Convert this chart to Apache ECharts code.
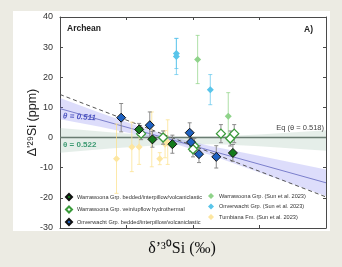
<!DOCTYPE html>
<html>
<head>
<meta charset="utf-8">
<script src="https://cdn.jsdelivr.net/npm/echarts@6/dist/echarts.min.js"></script>
<style>
  html, body { margin: 0; padding: 0; background: #ecebe3; }
  #chart { width: 342px; height: 267px; }
</style>
</head>
<body>
<div id="chart"></div>
<script>
// x axis has no tick labels: values are in tick units (0..4)
// Warrawoona Grp. bedded/interpillow/volcaniclastic
const wbX = [1.19, 1.39, 1.69, 2.60];
const wbY = [2.7, -0.6, -2.2, -5.1];
const wbErr = [2.0, 2.6, 3.0, 2.8];
// Warrawoona Grp. vein/upflow hydrothermal
const wvX = [1.22, 1.55, 2.02, 2.00, 2.42, 2.56, 2.62];
const wvY = [1.3, 0.0, -2.8, -3.9, 1.3, -0.3, 1.3];
const wvErr = [2.0, 2.2, 2.5, 2.5, 3.0, 2.5, 3.0];
// Onverwacht Grp. bedded/interpillow/volcaniclastic
const obX = [0.92, 1.35, 1.95, 1.97, 2.09, 2.35];
const obY = [6.6, 4.1, 1.6, -1.5, -5.5, -6.4];
const obErr = [4.7, 4.4, 3.3, 3.0, 2.8, 3.7];
// Sun et al. 2023
const swX = [2.07, 2.53];
const swY = [25.9, 7.1];
const swErr = [8.0, 7.8];
const soX = [1.75, 1.75, 2.26];
const soY = [27.9, 26.9, 15.9];
const soErr = [5.0, 6.0, 5.0];
const tfX = [0.85, 1.08, 1.19, 1.38, 1.50, 1.58, 1.62];
const tfY = [-7.0, -3.1, -3.1, -0.6, -7.0, -2.2, -1.5];
const tfErr = [11.5, 8.2, 5.8, 9.1, 2.0, 4.5, 7.4];

// fit lines and confidence bands
const lineX = [0, 4];
const fit511Y = [9.6, -15.0];
const dashY = [14.3, -19.7];
const eqY = [0, 0];
const band511X = [0, 0.60, 1.20, 1.70, 2.26, 3.01, 4.0];
const band511Up = [13.1, 8.2, 3.6, 0.1, -2.8, -6.1, -10.6];
const band511Lo = [6.1, 3.6, 0.8, -1.9, -5.8, -11.7, -19.4];
const band522X = [0, 0.75, 1.65, 2.4, 3.0, 4.0];
const band522Up = [3.2, 1.8, 0.3, 0.4, 1.0, 2.4];
const band522Lo = [-5.0, -3.6, -2.3, -2.2, -2.9, -4.4];

const yTicks = { min: -30, max: 40, step: 10 };

const names = [
  'Warrawoona Grp. bedded/interpillow/volcaniclastic',
  'Warrawoona Grp. vein/upflow hydrothermal',
  'Onverwacht Grp. bedded/interpillow/volcaniclastic',
  'Warrawoona Grp. (Sun et al. 2023)',
  'Onverwacht Grp. (Sun et al. 2023)',
  'Tumbiana Fm. (Sun et al. 2023)'
];

function pairs(xs, ys) {
  return xs.map((x, i) => [x, ys[i]]);
}

function errorBars(xs, ys, errs, color, z) {
  return {
    type: 'custom', z: z, silent: true,
    data: xs.map((x, i) => [x, ys[i] - errs[i], ys[i] + errs[i]]),
    encode: { x: 0, y: [1, 2] },
    renderItem: function (params, api) {
      const lo = api.coord([api.value(0), api.value(1)]);
      const hi = api.coord([api.value(0), api.value(2)]);
      const c = 2;
      const st = { stroke: color, lineWidth: 1 };
      return {
        type: 'group',
        children: [
          { type: 'line', shape: { x1: lo[0], y1: lo[1], x2: hi[0], y2: hi[1] }, style: st },
          { type: 'line', shape: { x1: lo[0] - c, y1: lo[1], x2: lo[0] + c, y2: lo[1] }, style: st },
          { type: 'line', shape: { x1: hi[0] - c, y1: hi[1], x2: hi[0] + c, y2: hi[1] }, style: st }
        ]
      };
    }
  };
}

function band(xs, up, lo, color, z) {
  return {
    type: 'custom', z: z, silent: true,
    data: [[xs[0], up[0]]],
    renderItem: function (params, api) {
      const pts = [];
      for (let i = 0; i < xs.length; i++) pts.push(api.coord([xs[i], up[i]]));
      for (let i = xs.length - 1; i >= 0; i--) pts.push(api.coord([xs[i], lo[i]]));
      return { type: 'polygon', shape: { points: pts }, style: { fill: color } };
    }
  };
}

function points(name, xs, ys, size, fill, border, bw, z) {
  return {
    name: name, type: 'scatter', z: z,
    symbol: 'diamond', symbolSize: size,
    data: pairs(xs, ys),
    itemStyle: { color: fill, borderColor: border, borderWidth: bw, opacity: 1 }
  };
}

function plainLine(ys, color, width, type, z) {
  return {
    type: 'line', z: z, silent: true, showSymbol: false,
    data: pairs(lineX, ys),
    lineStyle: { color: color, width: width, type: type }
  };
}

const chart = echarts.init(document.getElementById('chart'));

const xAxisBase = {
  type: 'value', min: 0, max: 4, interval: 1,
  axisLine: { show: true, onZero: false, lineStyle: { color: '#4a4a4a', width: 1 } },
  axisTick: { show: true, inside: true, length: 3, lineStyle: { color: '#4a4a4a' } },
  axisLabel: { show: false },
  splitLine: { show: false }
};
const yAxisBase = {
  type: 'value', min: yTicks.min, max: yTicks.max, interval: yTicks.step,
  axisLine: { show: true, onZero: false, lineStyle: { color: '#4a4a4a', width: 1 } },
  axisTick: { show: true, inside: true, length: 3, lineStyle: { color: '#4a4a4a' } },
  splitLine: { show: false }
};

const legendBase = {
  orient: 'vertical', top: 193, itemWidth: 6, itemHeight: 6, itemGap: 4.5,
  padding: 0, selectedMode: false,
  textStyle: { fontSize: 5.6, color: '#333', fontFamily: 'Liberation Sans', lineHeight: 6 }
};

chart.setOption({
  backgroundColor: '#ecebe3',
  animation: false,
  grid: { left: 60, right: 16, top: 17, bottom: 39 },
  xAxis: [
    Object.assign({}, xAxisBase, { position: 'bottom' }),
    Object.assign({}, xAxisBase, { position: 'top' })
  ],
  yAxis: [
    Object.assign({}, yAxisBase, {
      position: 'left',
      axisLabel: { fontSize: 9, color: '#333', margin: 7, fontFamily: 'Liberation Sans' },
      name: "Δ'²⁹Si (ppm)", nameLocation: 'middle', nameGap: 21, nameMoveOverlap: false,
      nameTextStyle: { fontSize: 12.5, color: '#222', fontFamily: 'Liberation Sans' }
    }),
    Object.assign({}, yAxisBase, { position: 'right', axisLabel: { show: false } })
  ],
  legend: [
    Object.assign({}, legendBase, { left: 65, data: names.slice(0, 3) }),
    Object.assign({}, legendBase, { left: 208, data: names.slice(3) })
  ],
  graphic: [
    { type: 'rect', z: -10, shape: { x: 13, y: 11, width: 317, height: 220 }, style: { fill: '#ffffff' } },
    { type: 'text', x: 67, y: 29, z: 10, style: { text: 'Archean', fontSize: 8.5, fontWeight: 'bold', fill: '#222', verticalAlign: 'middle', fontFamily: 'Liberation Sans' } },
    { type: 'text', x: 313, y: 30, z: 10, style: { text: 'A)', fontSize: 8.5, fontWeight: 'bold', fill: '#222', align: 'right', verticalAlign: 'middle', fontFamily: 'Liberation Sans' } },
    { type: 'text', x: 63, y: 116, z: 10, rotation: -0.06, style: { text: 'θ = 0.511', fontSize: 8, fontStyle: 'italic', fontWeight: 'bold', fill: '#4e55c2', verticalAlign: 'middle', fontFamily: 'Liberation Sans' } },
    { type: 'text', x: 63, y: 145, z: 10, style: { text: 'θ = 0.522', fontSize: 8, fontWeight: 'bold', fill: '#3d9a72', verticalAlign: 'middle', fontFamily: 'Liberation Sans' } },
    { type: 'text', x: 324, y: 128, z: 10, style: { text: 'Eq (θ = 0.518)', fontSize: 7.5, fill: '#444', align: 'right', verticalAlign: 'middle', fontFamily: 'Liberation Sans' } },
    { type: 'text', x: 182, y: 249, z: 10, style: { text: 'δ’³⁰Si (‰)', fontSize: 16, fill: '#111', align: 'center', verticalAlign: 'middle', fontFamily: 'Liberation Serif' } }
  ],
  series: [
    band(band522X, band522Up, band522Lo, 'rgba(160,195,175,0.28)', 1),
    band(band511X, band511Up, band511Lo, 'rgba(125,125,240,0.26)', 1),
    plainLine(eqY, '#6a7c72', 1.5, 'solid', 2),
    plainLine(fit511Y, '#7b7fcc', 1, 'solid', 2),
    plainLine(dashY, '#555555', 1, [4, 3], 2),
    errorBars(tfX, tfY, tfErr, 'rgba(252,225,140,0.75)', 3),
    errorBars(swX, swY, swErr, 'rgba(140,210,130,0.7)', 3),
    errorBars(soX, soY, soErr, 'rgba(90,195,235,0.7)', 3),
    points(names[5], tfX, tfY, 7, '#fde6a0', '#fde6a0', 0, 4),
    points(names[3], swX, swY, 7, '#8fd38a', '#8fd38a', 0, 4),
    points(names[4], soX, soY, 7, '#59c5ea', '#59c5ea', 0, 4),
    errorBars(wbX, wbY, wbErr, '#8a8a8a', 5),
    errorBars(wvX, wvY, wvErr, '#8a8a8a', 5),
    errorBars(obX, obY, obErr, '#8a8a8a', 5),
    points(names[1], wvX, wvY, 9, '#ffffff', '#3a9a3a', 1.3, 6),
    points(names[0], wbX, wbY, 9, '#147a1c', '#111111', 1, 6),
    points(names[2], obX, obY, 9, '#1f62c2', '#111111', 1, 6)
  ]
});
</script>
</body>
</html>
